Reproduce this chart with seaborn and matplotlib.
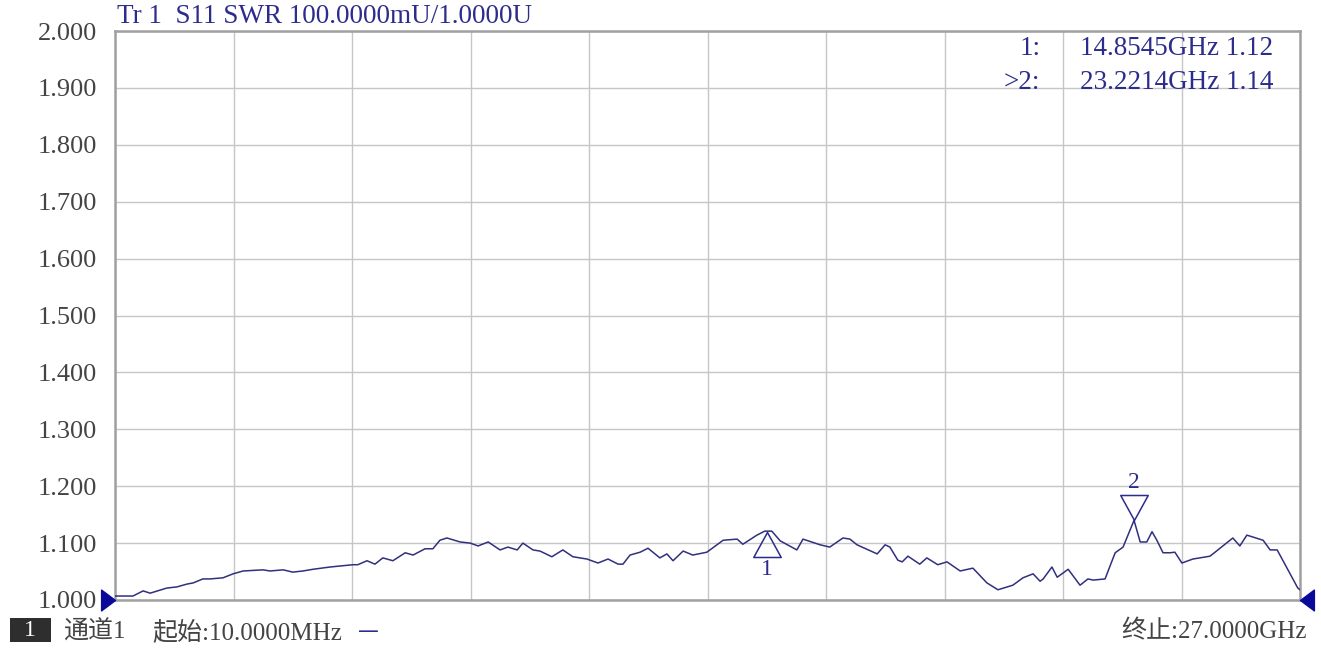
import numpy as np
import pandas as pd
import matplotlib
matplotlib.use("Agg")
import matplotlib.pyplot as plt
import seaborn as sns
from matplotlib.path import Path
from matplotlib.patches import Rectangle

# S11 SWR trace (frequency in GHz)
freqGHz = [0.01, 0.42, 0.65, 0.81, 1.19, 1.42, 1.65, 1.79, 2.01, 2.17,
           2.47, 2.70, 2.93, 3.38, 3.54, 3.84, 4.06, 4.29, 4.52, 4.91,
           5.43, 5.54, 5.75, 5.93, 6.11, 6.34, 6.62, 6.80, 7.07, 7.25,
           7.41, 7.57, 7.87, 8.10, 8.28, 8.51, 8.78, 8.96, 9.17, 9.30,
           9.53, 9.69, 9.96, 10.21, 10.44, 10.76, 11.01, 11.24, 11.47, 11.58,
           11.74, 11.97, 12.15, 12.42, 12.58, 12.72, 12.95, 13.17, 13.49, 13.72,
           13.86, 14.18, 14.31, 14.63, 14.81, 14.97, 15.16, 15.54, 15.68, 16.07,
           16.29, 16.59, 16.75, 16.91, 17.37, 17.55, 17.66, 17.84, 17.94, 18.07,
           18.34, 18.50, 18.75, 18.96, 19.26, 19.55, 19.87, 20.12, 20.46, 20.69,
           20.92, 21.08, 21.15, 21.35, 21.47, 21.72, 21.99, 22.17, 22.29, 22.56,
           22.79, 22.97, 23.22, 23.36, 23.51, 23.63, 23.74, 23.88, 24.04, 24.15,
           24.31, 24.56, 24.95, 25.13, 25.47, 25.63, 25.79, 26.16, 26.32, 26.48,
           26.95, 27.00]
swr = [1.007, 1.007, 1.016, 1.012, 1.021, 1.023, 1.028, 1.030, 1.037, 1.037,
       1.039, 1.046, 1.051, 1.053, 1.051, 1.053, 1.049, 1.051, 1.054, 1.058,
       1.062, 1.062, 1.069, 1.063, 1.074, 1.069, 1.083, 1.079, 1.090, 1.090,
       1.105, 1.109, 1.102, 1.100, 1.095, 1.102, 1.088, 1.093, 1.088, 1.100,
       1.088, 1.086, 1.076, 1.088, 1.076, 1.072, 1.065, 1.072, 1.063, 1.063,
       1.079, 1.084, 1.091, 1.074, 1.081, 1.069, 1.086, 1.079, 1.084, 1.097,
       1.105, 1.107, 1.098, 1.114, 1.121, 1.121, 1.104, 1.088, 1.107, 1.097,
       1.093, 1.109, 1.107, 1.097, 1.081, 1.097, 1.093, 1.070, 1.067, 1.077,
       1.063, 1.074, 1.062, 1.067, 1.051, 1.056, 1.030, 1.018, 1.026, 1.039,
       1.046, 1.033, 1.037, 1.058, 1.040, 1.054, 1.026, 1.037, 1.035, 1.037,
       1.083, 1.093, 1.140, 1.102, 1.102, 1.120, 1.105, 1.083, 1.083, 1.084,
       1.065, 1.072, 1.077, 1.088, 1.109, 1.095, 1.114, 1.105, 1.088, 1.088,
       1.021, 1.018]

markerIds = ["1", "2"]
markerFreqGHz = [14.8545, 23.2214]
markerSwr = [1.12, 1.14]
activeMarker = "2"

startGHz, stopGHz = 0.01, 27.0
yTicks = [1.0, 1.1, 1.2, 1.3, 1.4, 1.5, 1.6, 1.7, 1.8, 1.9, 2.0]

traceTitle = "Tr 1  S11 SWR 100.0000mU/1.0000U"
channelNo = "1"
channelLabel = "通道1"
startLabel = "起始:10.0000MHz"
stopLabel = "终止:27.0000GHz"

navy = "#2c2c8c"
traceColor = "#30307e"
grey = "#444444"

sns.set_theme(style="white")
plt.rcParams["font.family"] = ["Liberation Serif", "Noto Sans CJK SC", "DejaVu Sans"]

df = pd.DataFrame({"freq": freqGHz, "swr": swr})

fig = plt.figure(figsize=(13.21, 6.57), dpi=100)
fig.patch.set_facecolor("white")
ax = fig.add_axes([115 / 1321, 57 / 657, 1185 / 1321, 569 / 657])

sns.lineplot(data=df, x="freq", y="swr", ax=ax, color=traceColor, linewidth=1.1,
             sort=False, estimator=None, zorder=4)

ax.set_xlim(startGHz, stopGHz)
ax.set_ylim(yTicks[0], yTicks[-1])
ax.set_xticks(np.linspace(startGHz, stopGHz, 11))
ax.set_xticklabels([])
ax.set_yticks(yTicks)
ax.set_yticklabels([f"{v:.3f}" for v in yTicks], fontsize=19, color=grey)
ax.tick_params(axis="both", length=0, pad=13)
ax.grid(True, color="#c6c6c6", linewidth=1.0)
ax.set_xlabel("")
ax.set_ylabel("")
for side in ax.spines.values():
    side.set_color("#a0a0a0")
    side.set_linewidth(1.8)

# marker triangles with apex on the trace
upTri = Path([(0, 0), (-0.55, -1), (0.55, -1), (0, 0)],
             [Path.MOVETO, Path.LINETO, Path.LINETO, Path.CLOSEPOLY])
downTri = Path([(0, 0), (-0.55, 1), (0.55, 1), (0, 0)],
               [Path.MOVETO, Path.LINETO, Path.LINETO, Path.CLOSEPOLY])
for mid, mf, ms in zip(markerIds, markerFreqGHz, markerSwr):
    if mid == activeMarker:
        shape, offset = downTri, 27
    else:
        shape, offset = upTri, -27
    ax.plot([mf], [ms], marker=shape, markersize=36, markerfacecolor="none",
            markeredgecolor=navy, markeredgewidth=1.1, linestyle="none", zorder=5)
    ax.annotate(mid, (mf, ms), xytext=(0, offset), textcoords="offset points",
                ha="center", va="center", fontsize=17, color=navy)

# reference level arrows at both ends
rightArrow = Path([(0, 0), (-1, 0.75), (-1, -0.75), (0, 0)],
                  [Path.MOVETO, Path.LINETO, Path.LINETO, Path.CLOSEPOLY])
leftArrow = Path([(0, 0), (1, 0.75), (1, -0.75), (0, 0)],
                 [Path.MOVETO, Path.LINETO, Path.LINETO, Path.CLOSEPOLY])
ax.plot([startGHz], [yTicks[0]], marker=rightArrow, markersize=20, color="#0a0a9a",
        linestyle="none", clip_on=False, zorder=6)
ax.plot([stopGHz], [yTicks[0]], marker=leftArrow, markersize=20, color="#0a0a9a",
        linestyle="none", clip_on=False, zorder=6)

# trace header and marker readout
ax.text(0.002, 1.004, traceTitle, transform=ax.transAxes, ha="left", va="bottom",
        fontsize=19.5, color=navy)
rowY = [0.970, 0.909]
for i, (mid, mf, ms) in enumerate(zip(markerIds, markerFreqGHz, markerSwr)):
    prefix = ">" if mid == activeMarker else ""
    ax.text(0.781, rowY[i], f"{prefix}{mid}:", transform=ax.transAxes, ha="right",
            va="center", fontsize=19.5, color=navy, zorder=7)
    ax.text(0.814, rowY[i], f"{mf:.4f}GHz {ms:.2f}", transform=ax.transAxes, ha="left",
            va="center", fontsize=19.5, color=navy, zorder=7)

# channel status line
fig.patches.append(Rectangle((10 / 1321, 1 - 642 / 657), 41 / 1321, 24 / 657,
                             transform=fig.transFigure, facecolor="#2e2e2e",
                             edgecolor="none"))
fig.text(30 / 1321, 1 - 631 / 657, channelNo, ha="center", va="center", fontsize=17,
         color="white")
fig.text(63 / 1321, 1 - 632 / 657, channelLabel, ha="left", va="center",
         fontsize=18, color=grey)
fig.text(152 / 1321, 1 - 632 / 657, startLabel, ha="left", va="center",
         fontsize=18, color=grey)
fig.text(358 / 1321, 1 - 631 / 657, "—", ha="left", va="center",
         fontsize=15, color=navy, family=["DejaVu Sans"])
fig.text(1307 / 1321, 1 - 632 / 657, stopLabel, ha="right", va="center",
         fontsize=18, color=grey)

fig.savefig("out.png", dpi=100)
